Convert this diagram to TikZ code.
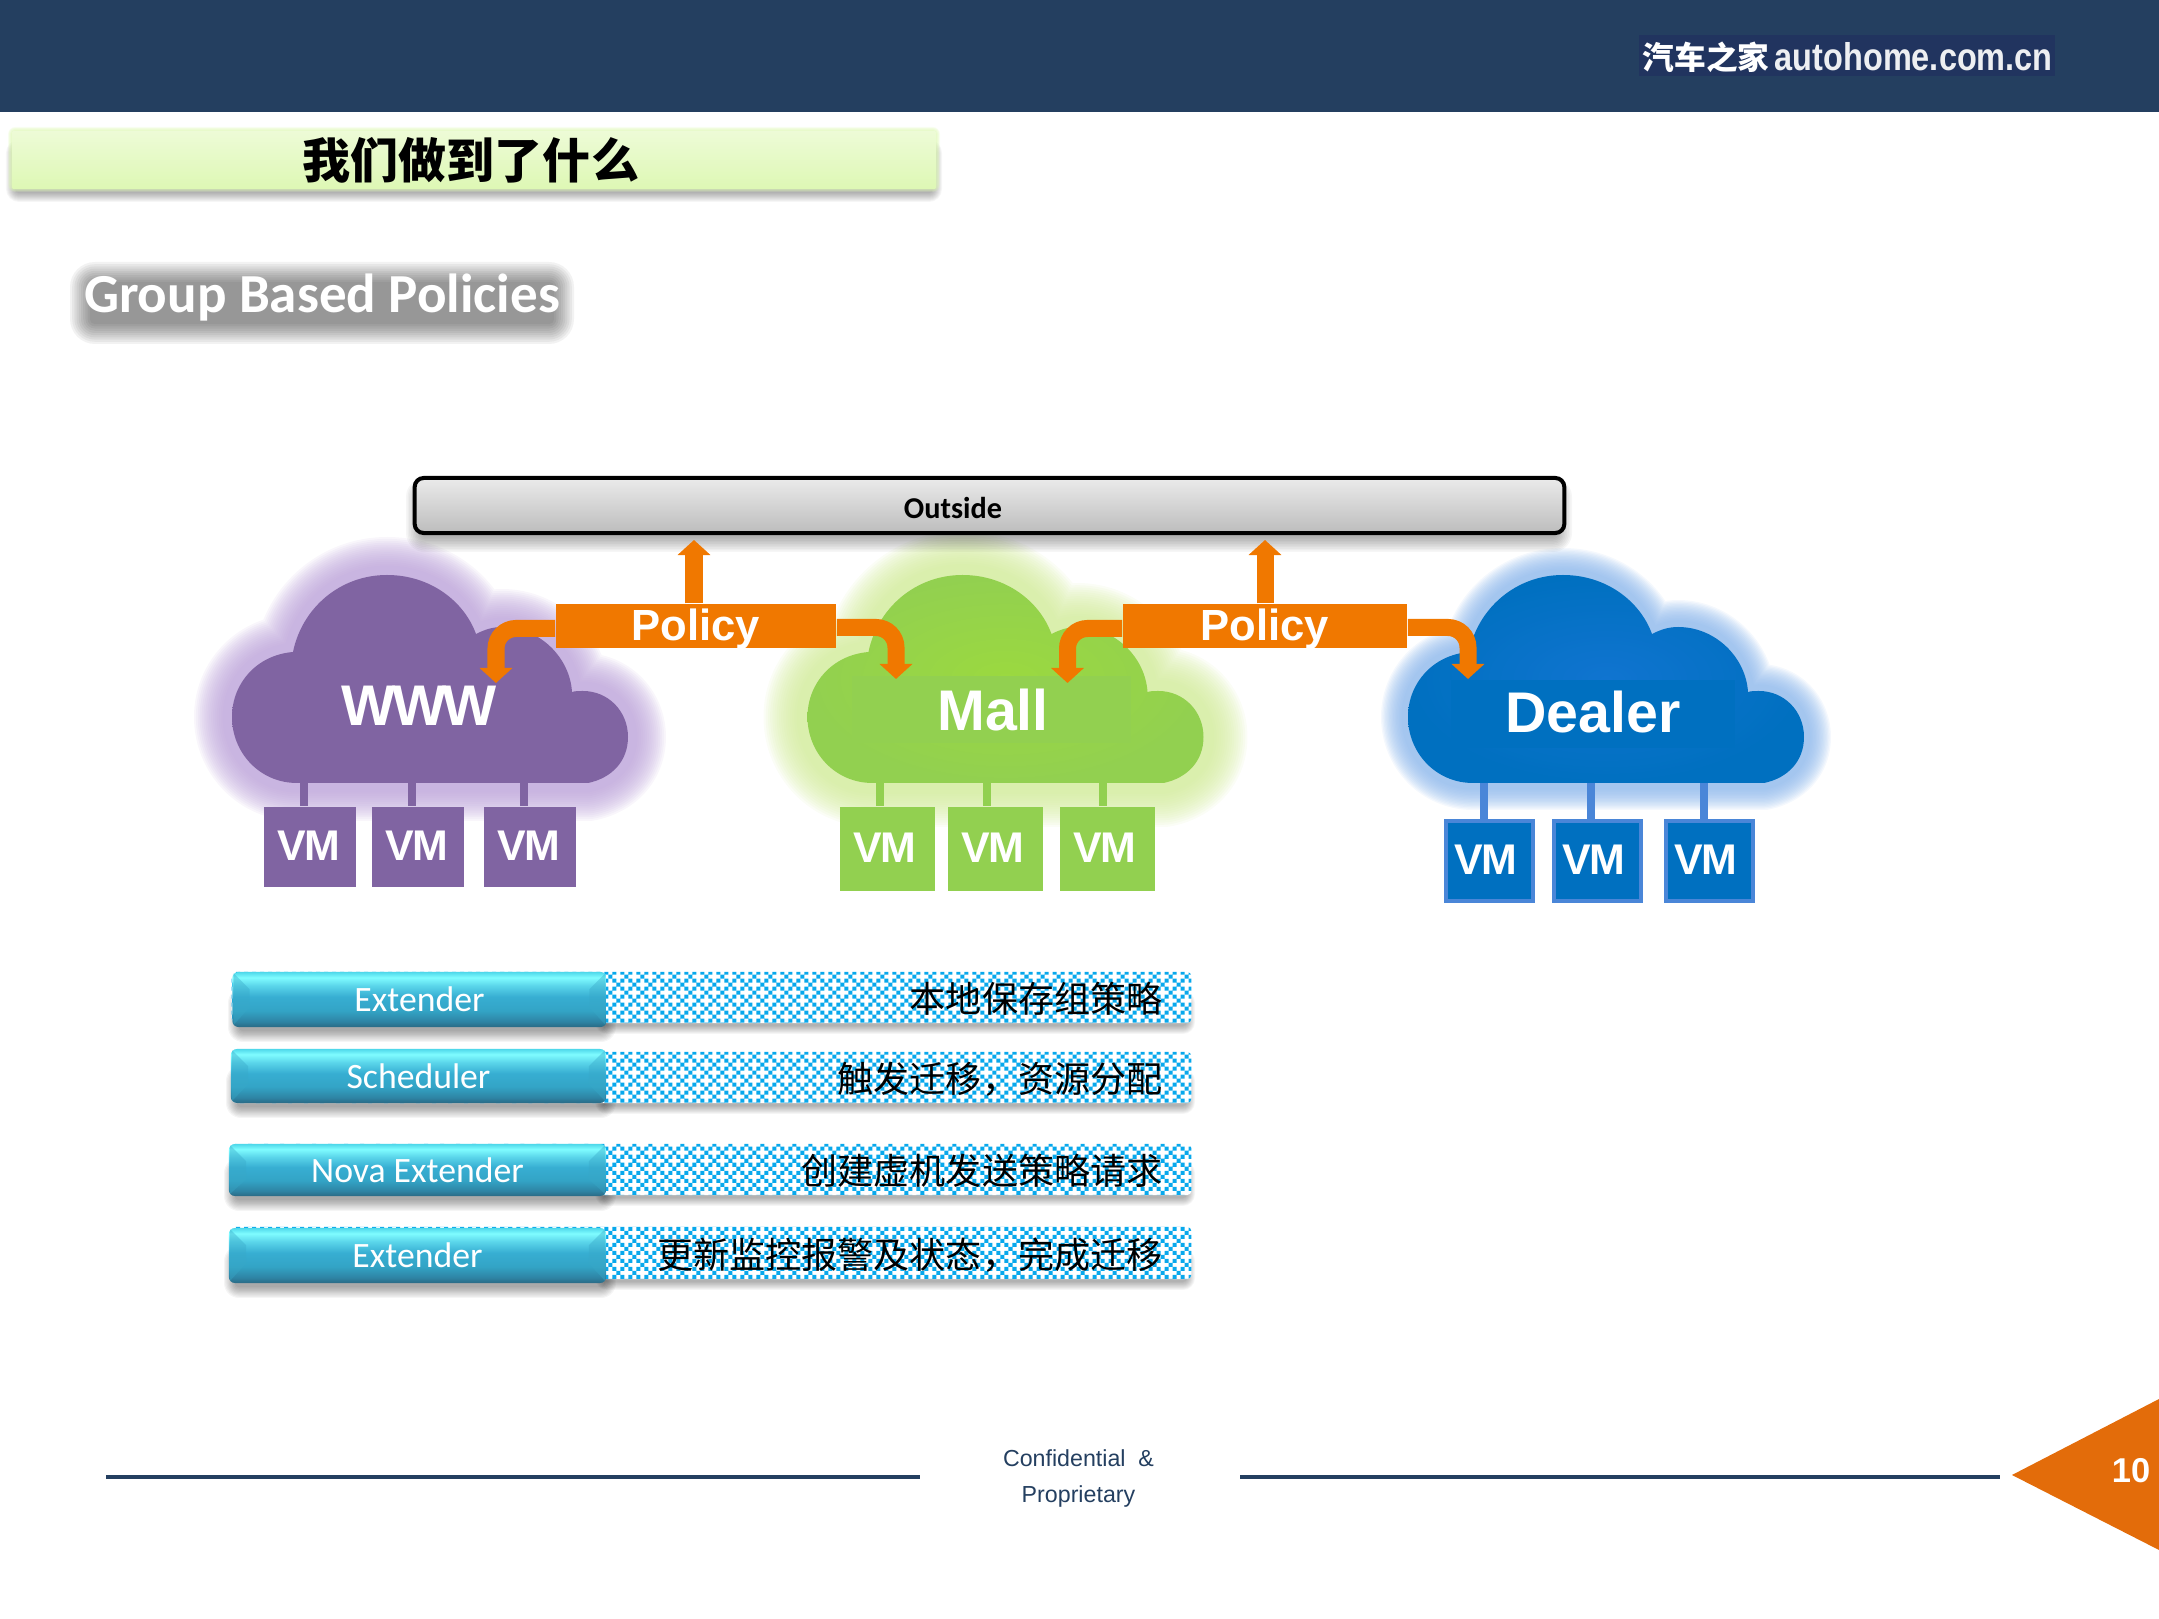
\documentclass[tikz,border=0pt]{standalone}
\usepackage{fontspec}
\setmainfont{Liberation Sans}
\newfontfamily\cjk{Noto Sans CJK SC}
\newfontfamily\carlito{Carlito}
\newfontfamily\logofont[FakeStretch=.84]{Liberation Sans}
\usetikzlibrary{arrows.meta, patterns}

\definecolor{headblue}{HTML}{243F60}
\definecolor{logoblue}{HTML}{21345F}
\definecolor{titletop}{HTML}{EDFBD6}
\definecolor{titlebot}{HTML}{DEF8B5}
\definecolor{wwwcol}{HTML}{8064A2}
\definecolor{wwwglow}{HTML}{BAA0D8}
\definecolor{mallcol}{HTML}{92D050}
\definecolor{malllight}{HTML}{9BD93F}
\definecolor{mallglow}{HTML}{D0EA96}
\definecolor{dealercol}{HTML}{0070C0}
\definecolor{dealerlight}{HTML}{1074D0}
\definecolor{dealerglow}{HTML}{8BB6EB}
\definecolor{dealerline}{HTML}{4A86D8}
\definecolor{policycol}{HTML}{F07800}
\definecolor{pagecol}{HTML}{E36C0A}
\definecolor{netblue}{HTML}{08A8EC}
\definecolor{btna}{HTML}{2A6A85}
\definecolor{btnb}{HTML}{2E84A4}
\definecolor{btnc}{HTML}{33A4C6}
\definecolor{btnd}{HTML}{37AED2}
\definecolor{btne}{HTML}{5AD5EA}
\definecolor{btnf}{HTML}{7FFCFF}
\definecolor{btng}{HTML}{4FD8EA}
\definecolor{btnside}{HTML}{38A8C8}

\pgfdeclarepatternformonly{crossnet}{\pgfqpoint{-.1pt}{-.1pt}}{\pgfqpoint{4.7pt}{4.7pt}}{\pgfqpoint{4.552pt}{4.552pt}}{%
  \pgfpathrectangle{\pgfpoint{0pt}{0pt}}{\pgfpoint{1.14pt}{1.14pt}}%
  \pgfpathrectangle{\pgfpoint{2.276pt}{2.276pt}}{\pgfpoint{1.14pt}{1.14pt}}%
  \pgfpathrectangle{\pgfpoint{1.138pt}{1.138pt}}{\pgfpoint{1.14pt}{1.14pt}}%
  \pgfpathrectangle{\pgfpoint{3.414pt}{1.138pt}}{\pgfpoint{1.14pt}{1.14pt}}%
  \pgfpathrectangle{\pgfpoint{1.138pt}{3.414pt}}{\pgfpoint{1.14pt}{1.14pt}}%
  \pgfpathrectangle{\pgfpoint{3.414pt}{3.414pt}}{\pgfpoint{1.14pt}{1.14pt}}%
  \pgfusepath{fill}}

\pgfdeclareverticalshading{btnshade}{100bp}{color(0bp)=(btna); color(25bp)=(btna);
  color(30bp)=(btnb); color(40bp)=(btnc); color(52.5bp)=(btnd);
  color(62.5bp)=(btne); color(70bp)=(btnf); color(75bp)=(btng); color(100bp)=(btng)}

\tikzset{
  vmbox/.style={minimum width=.92cm, minimum height=.80cm, inner sep=0pt, text=white,
    font=\fontsize{12.2}{14}\selectfont\bfseries, text height=.32cm, text depth=.06cm},
  stem/.style={line width=.08cm},
  namelbl/.style={inner sep=0pt, text=white, font=\fontsize{16.3}{18}\selectfont\bfseries},
  policybox/.style={fill=policycol, inner sep=0pt, minimum height=.44cm, text=white,
    font=\fontsize{12.4}{14}\selectfont\bfseries, text height=.32cm, text depth=.04cm},
  policyarrow/.style={draw=policycol, line width=.17cm, rounded corners=.2cm,
    -{Triangle[length=.15cm,width=.32cm]}},
  button/.style={shading=btnshade, rounded corners=.06cm, inner sep=0pt, text=white,
    font=\carlito\fontsize{10.15}{11}\selectfont},
  netbar/.style={preaction={fill=white}, pattern=crossnet, pattern color=netblue, rounded corners=.04cm,
    minimum width=9.59cm, inner xsep=.29cm, inner ysep=0pt, text width=9.01cm, align=right,
    text height=.32cm, text depth=.02cm, font=\cjk\fontsize{10.25}{12}\selectfont},
  bevel/.style={fill=btnside, fill opacity=.4}
}

\newcommand{\vmtxt}[1]{\kern-#1 V\kern-.01cm M}
\newcommand{\cloudpath}{(65,0) -- (356,0) .. controls (380,-5) and (396,-22) .. (396,-46)
  .. controls (396,-72) and (376,-92) .. (351,-92) .. controls (347,-92) and (343,-92) .. (340,-91)
  .. controls (338,-125) and (308,-156) .. (270,-156) .. controls (260,-156) and (252,-153) .. (244,-149)
  .. controls (232,-182) and (198,-208) .. (155,-208) .. controls (108,-208) and (70,-175) .. (61,-131)
  .. controls (25,-128) and (0,-100) .. (0,-66) .. controls (0,-30) and (28,0) .. (65,0) -- cycle}
% x of the left edge, glow colour, glow reach, inner and outer fill
\newcommand{\drawcloud}[5]{%
  \begin{scope}[shift={(#1,783)}]
    \foreach \f in {1,.95,...,.2}{
      \draw[draw=#2, draw opacity=.09, line join=round, line width=2*\f*#3*.01cm] \cloudpath;
    }
    \shade[inner color=#4, outer color=#5] \cloudpath;
  \end{scope}}
\newcommand{\softbox}[6]{%
  \foreach \f in {1,.9,...,0}{
    \pgfmathsetmacro\spr{\f*#6}
    \fill[#5, rounded corners=(\spr+3)*.01cm] ({#1-\spr},{#2-\spr}) rectangle ({#3+\spr},{#4+\spr});
  }}

\begin{document}
\begin{tikzpicture}[x=.01cm, y=-.01cm]
  \useasboundingbox (0,0) rectangle (2159,1619);

  % header
  \fill[headblue] (0,0) rectangle (2159,112);
  \node[fill=logoblue, minimum width=4.15cm, minimum height=.41cm, inner sep=0pt] (logo) at (1847,55.5) {};
  \node[inner sep=0pt, text=white, font=\cjk\bfseries\fontsize{9}{10}\selectfont] (logocn) at (1706,57) {汽车之家};
  \node[inner sep=0pt, anchor=base west, text=white!92!logoblue, font=\logofont\bfseries\fontsize{11}{12}\selectfont] (logoen) at (1774,71) {autohome.com.cn};

  % title
  \softbox{16}{150}{932}{192}{black, opacity=.035}{10}
  \softbox{12}{131}{936}{188}{titlebot, opacity=.12}{4}
  \node[top color=titletop, bottom color=titlebot, minimum width=9.22cm, minimum height=.56cm, inner sep=0pt,
    font=\cjk\bfseries\fontsize{13.65}{15}\selectfont] (title) at (474,160) {\kern-.06cm 我们做到了什么};
  \softbox{92}{284}{552}{322}{black, opacity=.05}{22}
  \node[anchor=base, inner sep=0pt, text=white, font=\carlito\bfseries\fontsize{15.65}{17}\selectfont] (sub) at (322,313) {Group Based Policies};

  % clouds
  \drawcloud{232}{wwwglow}{38}{wwwcol}{wwwcol}
  \drawcloud{807.5}{mallglow}{44}{malllight}{mallcol}
  \drawcloud{1408}{dealerglow}{27}{dealerlight}{dealercol}
  \node[namelbl, anchor=base] (www) at (419,726) {W\kern-.04cm W\kern-.04cm W};
  \node[namelbl, fill=mallcol, minimum width=2.79cm, minimum height=.67cm, text height=.41cm, text depth=0pt] (mall) at (991.5,709.5) {\kern.03cm Mall};
  \node[namelbl, fill=dealercol, minimum width=2.84cm, minimum height=.68cm, text height=.41cm, text depth=.05cm] (dealer) at (1593,714) {Dealer};

  % vm boxes
  \foreach \nm/\x/\sx in {vmwa/310/304, vmwb/418/412, vmwc/530/524}{
    \node[vmbox, fill=wwwcol] (\nm) at (\x,847) {\vmtxt{.02cm}};
    \coordinate (s\nm) at (\sx,783);
    \draw[stem, wwwcol] (s\nm) -- (s\nm |- \nm.north);
  }
  \foreach \nm/\x/\sx in {vmma/887.5/880, vmmb/995.5/987, vmmc/1107.5/1103}{
    \node[vmbox, fill=mallcol, minimum width=.95cm, minimum height=.84cm] (\nm) at (\x,849) {\vmtxt{.05cm}};
    \coordinate (s\nm) at (\sx,783);
    \draw[stem, mallcol] (s\nm) -- (s\nm |- \nm.north);
  }
  \foreach \nm/\x/\sx in {vmda/1489.5/1484, vmdb/1597.5/1591, vmdc/1709.5/1704}{
    \node[vmbox, fill=dealercol, draw=dealerline, line width=.04cm, minimum width=.87cm] (\nm) at (\x,861) {\vmtxt{.07cm}};
    \coordinate (s\nm) at (\sx,783);
    \draw[stem, dealerline] (s\nm) -- (s\nm |- \nm.north);
  }

  % outside bar
  \softbox{422}{494}{1556}{536}{black, opacity=.035}{16}
  \node[draw=black, line width=.04cm, rounded corners=.09cm, top color=black!8, bottom color=black!26,
    minimum width=11.49cm, minimum height=.55cm, inner sep=0pt] (outside) at (989.5,505.5) {};
  \node[inner sep=0pt, font=\carlito\bfseries\fontsize{8.6}{10}\selectfont] (outlbl) at (953,508) {Outside};

  % policies
  \node[policybox, minimum width=2.80cm] (policya) at (696,626) {Policy};
  \node[policybox, minimum width=2.84cm] (policyb) at (1265,626) {Policy};
  \coordinate (upa) at (694,540);
  \coordinate (upb) at (1265,540);
  \coordinate (wwwin) at (496,683);
  \coordinate (mallina) at (896,679);
  \coordinate (mallinb) at (1067.5,683);
  \coordinate (dealerin) at (1468,679);
  \draw[policyarrow] (upa |- policya.north) -- (upa);
  \draw[policyarrow] (upb |- policyb.north) -- (upb);
  \draw[policyarrow] ([yshift=-.025cm]policya.west) -| (wwwin);
  \draw[policyarrow] ([yshift=-.015cm]policya.east) -| (mallina);
  \draw[policyarrow] ([yshift=-.025cm]policyb.west) -| (mallinb);
  \draw[policyarrow] ([yshift=-.015cm]policyb.east) -| (dealerin);

  % rows
  \softbox{240}{1000}{604}{1030}{black, opacity=.04}{12}
  \softbox{604}{1000}{1186}{1025}{black, opacity=.035}{9}
  \softbox{238}{1078}{604}{1106}{black, opacity=.04}{12}
  \softbox{604}{1078}{1186}{1105}{black, opacity=.035}{9}
  \softbox{236}{1170}{604}{1199}{black, opacity=.04}{12}
  \softbox{604}{1170}{1186}{1197}{black, opacity=.035}{9}
  \softbox{236}{1258}{604}{1286}{black, opacity=.04}{12}
  \softbox{604}{1258}{1186}{1281}{black, opacity=.035}{9}
  \node[netbar, minimum height=.51cm] (neta) at (711.5,997.5) {本地保存组策略};
  \node[netbar, minimum height=.51cm] (netb) at (711.5,1077.5) {触发迁移，资源分配};
  \node[netbar, minimum height=.51cm] (netc) at (711.5,1169.5) {创建虚机发送策略请求};
  \node[netbar, minimum height=.52cm] (netd) at (711.5,1253) {更新监控报警及状态，完成迁移};
  \node[button, minimum width=3.74cm, minimum height=.55cm] (btna) at (419.5,999.5) {Extender};
  \node[button, minimum width=3.75cm, minimum height=.54cm] (btnb) at (418.5,1076) {Scheduler};
  \node[button, minimum width=3.77cm, minimum height=.52cm] (btnc) at (417.5,1170) {Nova Extender};
  \node[button, minimum width=3.77cm, minimum height=.55cm] (btnd) at (417.5,1255.5) {Extender};
  \foreach \b in {btna,btnb,btnc,btnd}{
    \fill[bevel] ([shift={(2,2)}]\b.north west) -- ++(16,16) -- ++(0,18) -- ([shift={(2,-3)}]\b.south west) -- cycle;
    \fill[bevel] ([shift={(-2,2)}]\b.north east) -- ++(-16,16) -- ++(0,18) -- ([shift={(-2,-3)}]\b.south east) -- cycle;
  }

  % footer
  \draw[headblue, line width=.04cm] (106,1477) -- (920,1477);
  \draw[headblue, line width=.04cm] (1240,1477) -- (2000,1477);
  \node[align=center, inner sep=0pt, text=headblue, font=\fontsize{6.6}{10.5}\selectfont] (conf) at (1078.5,1478.5) {Confidential~~\&\\Proprietary};
  \fill[pagecol] (2012,1475) -- (2159,1399) -- (2159,1550) -- cycle;
  \node[inner sep=0pt, text=white, font=\fontsize{9.8}{11}\selectfont\bfseries] (pageno) at (2131,1471) {10};
\end{tikzpicture}
\end{document}
